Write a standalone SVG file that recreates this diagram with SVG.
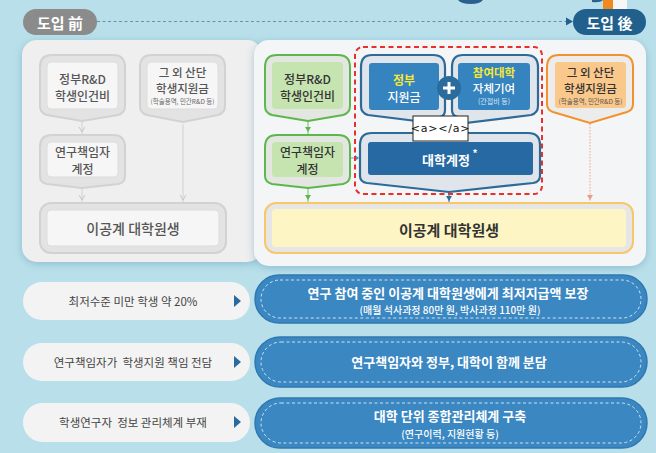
<svg xmlns="http://www.w3.org/2000/svg" width="656" height="453" viewBox="0 0 656 453">
<defs>
<style>
text{font-family:"Noto Sans CJK KR","Noto Sans",sans-serif;text-anchor:middle;dominant-baseline:central}
.gout{fill:#e3e3e3;stroke:#d2d2d2;stroke-width:2}
.gin{fill:#f6f6f6;stroke:#dcdcdc;stroke-width:1}
.gt{font-size:12px;fill:#555;font-weight:500}
.gt3{font-size:11.5px;fill:#555;font-weight:500}
.gs{font-size:6.5px;fill:#666}
.greenout{fill:#e4e6e2;stroke:#5cb84c;stroke-width:2}
.greenin{fill:#c6e4b0}
.dt{font-size:12px;fill:#333;font-weight:500}
.dt3{font-size:11.5px;fill:#333;font-weight:500}
.blueout{fill:#dfe5ea;stroke:#2c6a99;stroke-width:2.2}
.bluein{fill:#3583bf}
.yt{font-size:12px;fill:#f5e834;font-weight:700}
.wt{font-size:12px;fill:#fff;font-weight:500}
.yt3{font-size:11.5px;fill:#f5e834;font-weight:700}
.wt3{font-size:11.5px;fill:#fff;font-weight:500}
.ws{font-size:7px;fill:#dce9f4}
.orout{fill:#ececec;stroke:#f1922a;stroke-width:2}
.orin{fill:#fbc88c}
.lp{fill:#f3f3f3}
.lt{font-size:11.5px;fill:#444}
.rp{fill:#3a87c2;stroke:#3178b0;stroke-width:1.5}
.rd{fill:none;stroke:#e6f1fa;stroke-width:1;stroke-dasharray:3 2.5;opacity:.85}
.rt{font-size:13px;fill:#fff;font-weight:700}
.rs{font-size:10px;fill:#fff;font-weight:500}
.tri{fill:#2a6aa0}
</style>
<filter id="sh" x="-10%" y="-10%" width="120%" height="125%">
<feDropShadow dx="0" dy="2" stdDeviation="4" flood-color="#5a8fb0" flood-opacity="0.45"/>
</filter>
</defs>

<rect width="656" height="453" fill="#b9e0ea"/>

<!-- partial top illustrations -->
<g id="deco">
<path d="M458,0 h25 q-3,4 -12,4 q-10,0 -13,-4z" fill="#2a5f8e"/>
<path d="M592,0 h11 q-3,3 -11,2z" fill="#2a5f8e"/>
<rect x="603" y="0" width="10" height="9" fill="#f08a1e"/>
<rect x="613" y="0" width="14" height="10" fill="#f7f7f7"/>
</g>

<!-- header pills -->
<g id="before-label">
<rect x="23" y="9" width="74" height="26" rx="13" fill="#8b8b8b"/>
<text x="60" y="22" style="font-size:15px;fill:#fff;font-weight:700">도입 前</text>
</g>
<g id="after-label">
<rect x="573" y="9" width="73" height="26" rx="13" fill="#215f8c"/>
<text x="609.5" y="22" style="font-size:15px;fill:#fff;font-weight:700">도입 後</text>
</g>

<!-- panels -->
<g id="panel-before">
<rect x="22" y="40" width="240" height="222" rx="15" fill="#efefef" filter="url(#sh)"/>
</g>
<g id="panel-after">
<rect x="254" y="40" width="392" height="226" rx="15" fill="#f4f5f6" filter="url(#sh)"/>
</g>

<!-- connectors -->
<g id="connectors" fill="none">
<line x1="97" y1="21.5" x2="567" y2="21.5" stroke="#6f8fa8" stroke-width="1" stroke-dasharray="3 2.5"/>
<path d="M566,17.5 L573,21.5 L566,25.5 Z" fill="#215f8c"/>
<line x1="82" y1="116" x2="82" y2="134" stroke="#d0d0d0" stroke-width="1"/>
<path d="M79,127 L82,132 L85,127" stroke="#c8c8c8" stroke-width="1"/>
<line x1="82" y1="185" x2="82" y2="202" stroke="#d0d0d0" stroke-width="1"/>
<path d="M79,195 L82,200 L85,195" stroke="#c8c8c8" stroke-width="1"/>
<line x1="183" y1="124" x2="183" y2="202" stroke="#d0d0d0" stroke-width="1"/>
<path d="M180,195 L183,200 L186,195" stroke="#c8c8c8" stroke-width="1"/>
<line x1="308" y1="121" x2="308" y2="134" stroke="#6cc060" stroke-width="1"/>
<path d="M305,127 L308,132 L311,127 Z" fill="#5cb84c"/>
<line x1="308" y1="188" x2="308" y2="202" stroke="#6cc060" stroke-width="1"/>
<path d="M305,195 L308,200 L311,195 Z" fill="#5cb84c"/>
<line x1="351" y1="158" x2="358" y2="158" stroke="#6aa3cc" stroke-width="1"/>
<path d="M355,155 L359,158 L355,161 Z" fill="#4a8fc4"/>
<line x1="449" y1="193" x2="449" y2="202" stroke="#2c6a99" stroke-width="1"/>
<path d="M446,196 L449,201 L452,196 Z" fill="#2c6a99"/>
<line x1="590" y1="124" x2="590" y2="202" stroke="#f0a090" stroke-width="1" stroke-dasharray="1.5 1.5"/>
<path d="M587,195 L590,200 L593,195 Z" fill="#ec9a86"/>
</g>

<!-- BEFORE nodes -->
<g id="b-gov-rd">
<path class="gout" d="M52,55 H113 Q125,55 125,67 V106 Q125,113 118,115 L82,121 L47,115 Q40,113 40,106 V67 Q40,55 52,55 Z"/>
<rect class="gin" x="47" y="62" width="71" height="47" rx="4"/>
<text class="gt" x="82.5" y="78">정부R&amp;D</text>
<text class="gt" x="82.5" y="95">학생인건비</text>
</g>
<g id="b-other">
<path class="gout" d="M152,55 H213 Q225,55 225,67 V106 Q225,113 218,115 L183,122 L147,115 Q140,113 140,106 V67 Q140,55 152,55 Z"/>
<rect class="gin" x="147" y="62" width="71" height="47" rx="4"/>
<text class="gt3" x="182.5" y="72">그 외 산단</text>
<text class="gt3" x="182.5" y="88">학생지원금</text>
<text class="gs" x="182.5" y="101">(학술용역, 민간R&amp;D 등)</text>
</g>
<g id="b-pi-account">
<path class="gout" d="M52,135 H113 Q125,135 125,147 V176 Q125,183 118,184 L82,188 L47,184 Q40,183 40,176 V147 Q40,135 52,135 Z"/>
<rect class="gin" x="47" y="142" width="71" height="35" rx="4"/>
<text class="gt" x="82.5" y="151">연구책임자</text>
<text class="gt" x="82.5" y="168">계정</text>
</g>
<g id="b-student">
<rect class="gout" x="40" y="203" width="186" height="50" rx="11"/>
<rect class="gin" x="47" y="210" width="172" height="36" rx="4"/>
<text x="133" y="228" style="font-size:14px;fill:#555;font-weight:500">이공계 대학원생</text>
</g>

<!-- AFTER nodes -->
<g id="a-gov-rd">
<path class="greenout" d="M277,55 H338 Q350,55 350,67 V106 Q350,113 343,115 L308,121 L272,115 Q265,113 265,106 V67 Q265,55 277,55 Z"/>
<rect class="greenin" x="272" y="62" width="71" height="47" rx="4"/>
<text class="dt" x="307.5" y="78">정부R&amp;D</text>
<text class="dt" x="307.5" y="95">학생인건비</text>
</g>
<g id="a-pi-account">
<path class="greenout" d="M277,135 H338 Q350,135 350,147 V176 Q350,182 343,184 L308,188 L272,184 Q265,182 265,176 V147 Q265,135 277,135 Z"/>
<rect class="greenin" x="272" y="142" width="71" height="35" rx="4"/>
<text class="dt" x="307.5" y="151">연구책임자</text>
<text class="dt" x="307.5" y="168">계정</text>
</g>

<g id="a-univ-group">
<rect x="355" y="47" width="187" height="147" rx="8" fill="none" stroke="#e8302c" stroke-width="2" stroke-dasharray="5 3.5"/>
</g>
<g id="a-gov-fund">
<path class="blueout" d="M372,55 H433 Q445,55 445,67 V110 Q445,116 440,117 L449,125 L368,115 Q361,113 361,106 V67 Q361,55 372,55 Z"/>
<rect class="bluein" x="369" y="63" width="70" height="47" rx="3"/>
<text class="yt" x="404" y="79">정부</text>
<text class="wt" x="404" y="96">지원금</text>
</g>
<g id="a-univ-contrib">
<path class="blueout" d="M463,55 H526 Q538,55 538,67 V106 Q538,113 531,115 L449,125 L458,117 Q452,116 452,110 V67 Q452,55 463,55 Z"/>
<rect class="bluein" x="458" y="63" width="72" height="47" rx="3"/>
<text class="yt3" x="494" y="72">참여대학</text>
<text class="wt3" x="494" y="88">자체기여</text>
<text class="ws" x="494" y="101">(간접비 등)</text>
</g>
<g id="a-plus">
<circle cx="449" cy="88" r="12" fill="#2b6c9c"/>
<path d="M443,88 H455 M449,82 V94" stroke="#fff" stroke-width="3"/>
</g>
<g id="a-univ-account">
<path class="blueout" d="M372,133 H528 Q540,133 540,145 V176 Q540,182 533,183 L449,192 L367,183 Q360,182 360,176 V145 Q360,133 372,133 Z"/>
<rect x="368" y="142" width="165" height="33" rx="3" fill="#2769a3"/>
<text x="446" y="159" style="font-size:13px;fill:#fff;font-weight:700">대학계정</text>
<text x="475" y="152" style="font-size:10px;fill:#fff;font-weight:700">*</text>
</g>
<g id="a-link-label">
<rect x="413" y="116" width="55" height="25" fill="#fff" stroke="#222" stroke-width="1"/>
<text x="440.5" y="128.5" style="font-size:11px;fill:#111;font-family:'DejaVu Sans',sans-serif;letter-spacing:0.8px">&lt;a&gt;&lt;/a&gt;</text>
</g>
<g id="a-other">
<path class="orout" d="M559,55 H621 Q633,55 633,67 V104 Q633,110 627,112 L590,123 L553,112 Q547,110 547,104 V67 Q547,55 559,55 Z"/>
<rect class="orin" x="555" y="62" width="71" height="46" rx="3"/>
<text class="dt3" x="590.5" y="72">그 외 산단</text>
<text class="dt3" x="590.5" y="88">학생지원금</text>
<text class="gs" x="590.5" y="101" style="fill:#555">(학술용역, 민간R&amp;D 등)</text>
</g>
<g id="a-student">
<rect x="265" y="203" width="368" height="50" rx="11" fill="#e6e6e6" stroke="#f7c768" stroke-width="2"/>
<rect x="272" y="209" width="354" height="38" rx="4" fill="#fdf5c4"/>
<text x="449" y="229" style="font-size:15px;fill:#333;font-weight:700">이공계 대학원생</text>
</g>

<!-- bottom comparison rows -->
<g id="row1-before">
<rect class="lp" x="23" y="282" width="227" height="38" rx="19"/>
<text class="lt" x="133" y="301">최저수준 미만 학생 약 20%</text>
<path class="tri" d="M234,295 L241,301 L234,307 Z"/>
</g>
<g id="row1-after">
<rect class="rp" x="255" y="275" width="392" height="48" rx="24"/>
<rect class="rd" x="261" y="280" width="380" height="38" rx="19"/>
<text class="rt" x="448" y="292">연구 참여 중인 이공계 대학원생에게 최저지급액 보장</text>
<text class="rs" x="450" y="309">(매월 석사과정 80만 원, 박사과정 110만 원)</text>
</g>
<g id="row2-before">
<rect class="lp" x="23" y="343" width="227" height="38" rx="19"/>
<text class="lt" x="133" y="362" xml:space="preserve">연구책임자가  학생지원 책임 전담</text>
<path class="tri" d="M234,356 L241,362 L234,368 Z"/>
</g>
<g id="row2-after">
<rect class="rp" x="255" y="337" width="392" height="50" rx="25"/>
<rect class="rd" x="261" y="342" width="380" height="40" rx="20"/>
<text class="rt" x="449" y="361">연구책임자와 정부, 대학이 함께 분담</text>
</g>
<g id="row3-before">
<rect class="lp" x="23" y="403" width="227" height="39" rx="19.5"/>
<text class="lt" x="133" y="422" xml:space="preserve">학생연구자  정보 관리체계 부재</text>
<path class="tri" d="M234,416 L241,422 L234,428 Z"/>
</g>
<g id="row3-after">
<rect class="rp" x="255" y="398" width="392" height="50" rx="25"/>
<rect class="rd" x="261" y="403" width="380" height="40" rx="20"/>
<text class="rt" x="450" y="415">대학 단위 종합관리체계 구축</text>
<text class="rs" x="450" y="433">(연구이력, 지원현황 등)</text>
</g>
</svg>
